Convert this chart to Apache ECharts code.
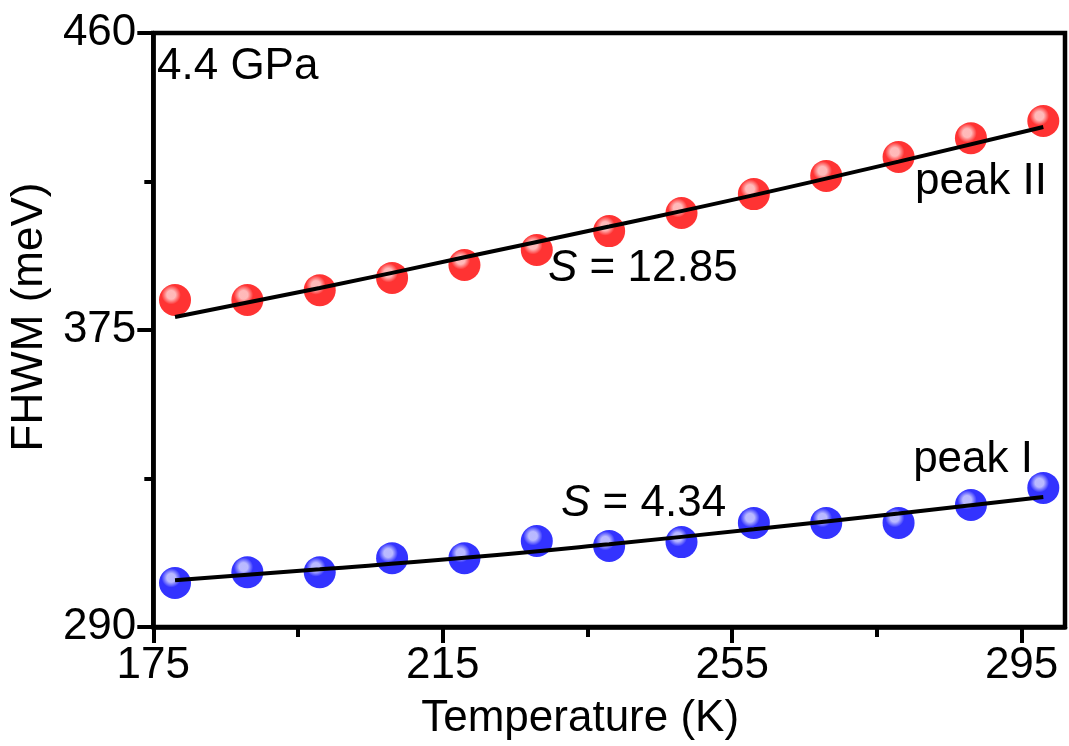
<!DOCTYPE html>
<html>
<head>
<meta charset="utf-8">
<script src="https://cdn.jsdelivr.net/npm/echarts@6/dist/echarts.min.js"></script>
<style>
  html, body { margin: 0; padding: 0; background: #ffffff; }
  #chart { width: 1069px; height: 746px; }
</style>
</head>
<body>
<div id="chart"></div>
<script>
// Measured FWHM of the two peaks at 4.4 GPa
const temperatures = [178, 188, 198, 208, 218, 228, 238, 248, 258, 268, 278, 288, 298];
const peakII = [383.6, 383.6, 386.4, 389.9, 393.6, 397.9, 403.3, 408.5, 413.9, 419.1, 424.5, 429.9, 434.8];
const peakI  = [302.6, 305.7, 305.7, 309.7, 309.7, 314.6, 313.2, 314.3, 319.8, 319.8, 319.8, 324.9, 329.8];

// Fitted curves
const fitTemperatures = [178, 198, 218, 238, 258, 278, 298];
const fitPeakII = [378.7, 387.0, 395.8, 404.6, 413.6, 423.2, 433.1];
const fitPeakI  = [303.4, 306.5, 309.8, 313.7, 318.0, 322.5, 327.2];

// Axis ticks
const xMajorTicks = [175, 215, 255, 295];
const xMinorTicks = [195, 235, 275];
const yTicks = [290, 375, 460];

const FONT = '"Liberation Sans", Arial, sans-serif';

// Shaded ball: soft highlight toward the upper left
function sphere(base, light) {
  return {
    type: 'radial', x: 0.38, y: 0.34, r: 0.75,
    colorStops: [
      { offset: 0, color: light },
      { offset: 0.18, color: light },
      { offset: 0.4, color: base },
      { offset: 1, color: base }
    ]
  };
}

function pairs(xs, ys) {
  return xs.map((x, i) => [x, ys[i]]);
}

const chart = echarts.init(document.getElementById('chart'), null, { renderer: 'canvas' });

chart.setOption({
  backgroundColor: '#ffffff',
  animation: false,
  grid: {
    left: 150, right: 4, top: 33, bottom: 119,
    show: true, borderColor: '#000', borderWidth: 4.5, backgroundColor: 'transparent'
  },
  xAxis: [
    {
      type: 'value', min: 175, max: 301, interval: 40,
      name: 'Temperature (K)', nameLocation: 'middle', nameGap: 70,
      nameTextStyle: { fontFamily: FONT, fontSize: 44, color: '#000', padding: [0, 58, 0, 0] },
      axisLine: { show: true, lineStyle: { color: '#000', width: 4.5 } },
      axisTick: { show: true, inside: false, length: 16, lineStyle: { color: '#000', width: 4 }, customValues: xMajorTicks },
      axisLabel: { fontFamily: FONT, fontSize: 44, color: '#000', margin: 17, customValues: xMajorTicks },
      splitLine: { show: false }
    },
    {
      type: 'value', min: 175, max: 301, position: 'bottom',
      axisLine: { show: false },
      axisTick: { show: true, inside: false, length: 10, lineStyle: { color: '#000', width: 4 }, customValues: xMinorTicks },
      axisLabel: { show: false },
      splitLine: { show: false }
    }
  ],
  yAxis: {
    type: 'value', min: 290, max: 460, interval: 85,
    name: 'FHWM (meV)', nameLocation: 'middle', nameGap: 93,
    nameTextStyle: { fontFamily: FONT, fontSize: 44, color: '#000', padding: [0, 0, 0, 26] },
    axisLine: { show: true, lineStyle: { color: '#000', width: 4.5 } },
    axisTick: { show: true, inside: false, length: 16, lineStyle: { color: '#000', width: 4 }, customValues: yTicks },
    minorTick: { show: true, splitNumber: 2, length: 9, lineStyle: { color: '#000', width: 4 } },
    axisLabel: { fontFamily: FONT, fontSize: 44, color: '#000', margin: 17, customValues: yTicks },
    splitLine: { show: false },
    minorSplitLine: { show: false }
  },
  series: [
    {
      name: 'peak II', type: 'scatter', data: pairs(temperatures, peakII),
      symbol: 'circle', symbolSize: 32, z: 2,
      itemStyle: { color: sphere('#ff0000', '#ffa8a8') }
    },
    {
      name: 'peak I', type: 'scatter', data: pairs(temperatures, peakI),
      symbol: 'circle', symbolSize: 32, z: 2,
      itemStyle: { color: sphere('#0000ff', '#a8a8ff') }
    },
    {
      name: 'fit II', type: 'line', data: pairs(fitTemperatures, fitPeakII),
      smooth: true, showSymbol: false, z: 3,
      lineStyle: { color: '#000', width: 4 }
    },
    {
      name: 'fit I', type: 'line', data: pairs(fitTemperatures, fitPeakI),
      smooth: true, showSymbol: false, z: 3,
      lineStyle: { color: '#000', width: 4 }
    }
  ],
  graphic: [
    { type: 'text', left: 157, top: 45, z: 10,
      style: { text: '4.4 GPa', font: '44px ' + FONT, fill: '#000' } },
    { type: 'text', right: 22, top: 160, z: 10,
      style: { text: 'peak II', font: '44px ' + FONT, fill: '#000' } },
    { type: 'text', right: 36, top: 438, z: 10,
      style: { text: 'peak I', font: '44px ' + FONT, fill: '#000' } },
    { type: 'text', left: 548, top: 247, z: 10,
      style: { text: '{i|S} = 12.85', font: '44px ' + FONT, fill: '#000',
        rich: { i: { fontStyle: 'italic', fontSize: 44, fontFamily: FONT } } } },
    { type: 'text', left: 561, top: 482, z: 10,
      style: { text: '{i|S} = 4.34', font: '44px ' + FONT, fill: '#000',
        rich: { i: { fontStyle: 'italic', fontSize: 44, fontFamily: FONT } } } }
  ]
});
</script>
</body>
</html>
